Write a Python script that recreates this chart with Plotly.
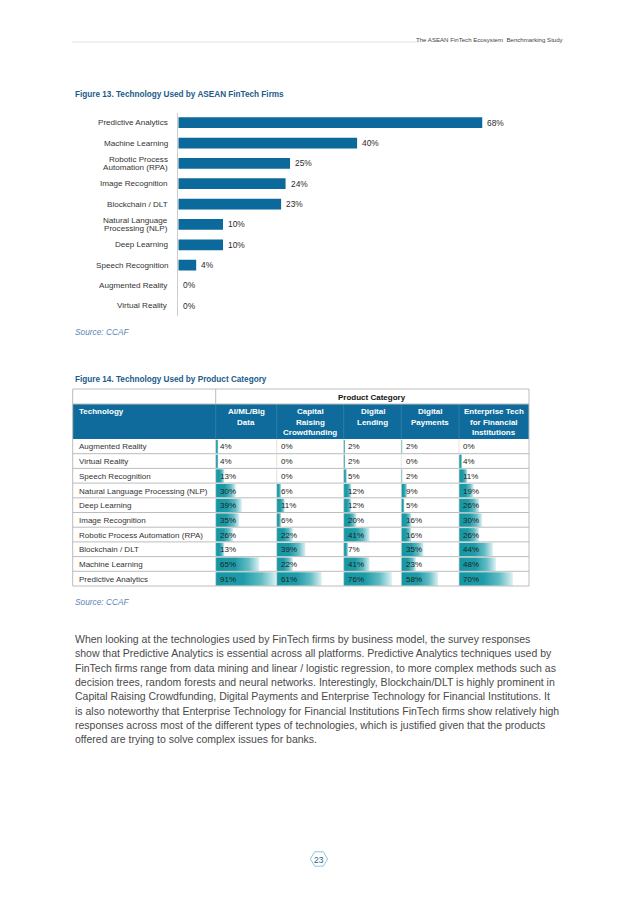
import plotly.graph_objects as go

W, H = 638, 902
FONT = "Liberation Sans, Arial, sans-serif"

# ---------------- data ----------------
header_text = "The ASEAN FinTech Ecosystem  Benchmarking Study"
fig13_title = "Figure 13. Technology Used by ASEAN FinTech Firms"
fig14_title = "Figure 14. Technology Used by Product Category"
source_text = "Source: CCAF"
page_number = "23"

fig13_categories = ["Predictive Analytics", "Machine Learning", "Robotic Process<br>Automation (RPA)",
                    "Image Recognition", "Blockchain / DLT", "Natural Language<br>Processing (NLP)",
                    "Deep Learning", "Speech Recognition", "Augmented Reality", "Virtual Reality"]
fig13_values = [68, 40, 25, 24, 23, 10, 10, 4, 0, 0]

fig14_group_header = "Product Category"
fig14_first_header = "Technology"
fig14_columns = ["AI/ML/Big<br>Data", "Capital<br>Raising<br>Crowdfunding", "Digital<br>Lending",
                 "Digital<br>Payments", "Enterprise Tech<br>for Financial<br>Institutions"]
fig14_technologies = ["Augmented Reality", "Virtual Reality", "Speech Recognition",
                      "Natural Language Processing (NLP)", "Deep Learning", "Image Recognition",
                      "Robotic Process Automation (RPA)", "Blockchain / DLT", "Machine Learning",
                      "Predictive Analytics"]
ai_ml_big_data = [4, 4, 13, 30, 39, 35, 26, 13, 65, 91]
capital_raising = [0, 0, 0, 6, 11, 6, 22, 39, 22, 61]
digital_lending = [2, 2, 5, 12, 12, 20, 41, 7, 41, 76]
digital_payments = [2, 0, 2, 9, 5, 16, 16, 35, 23, 58]
enterprise_tech = [0, 4, 11, 19, 26, 30, 26, 44, 48, 70]

paragraph_lines = [
    "When looking at the technologies used by FinTech firms by business model, the survey responses",
    "show that Predictive Analytics is essential across all platforms. Predictive Analytics techniques used by",
    "FinTech firms range from data mining and linear / logistic regression, to more complex methods such as",
    "decision trees, random forests and neural networks. Interestingly, Blockchain/DLT is highly prominent in",
    "Capital Raising Crowdfunding, Digital Payments and Enterprise Technology for Financial Institutions. It",
    "is also noteworthy that Enterprise Technology for Financial Institutions FinTech firms show relatively high",
    "responses across most of the different types of technologies, which is justified given that the products",
    "offered are trying to solve complex issues for banks.",
]

# ---------------- styles / layout constants ----------------
BAR_BLUE = "#0b6a9b"
TITLE_BLUE = "#1b5b8b"
SOURCE_BLUE = "#5a86b6"
TEXT_DARK = "#2b2b2b"
GRID = "#bcbcbc"

fig = go.Figure()

# ---------------- Figure 13: horizontal bar chart ----------------
fig.add_trace(go.Bar(
    x=fig13_values, y=fig13_categories, orientation="h",
    marker=dict(color=BAR_BLUE, line=dict(width=0)),
    xaxis="x", yaxis="y", hoverinfo="skip", showlegend=False,
))

annotations = []
for cat, v in zip(fig13_categories, fig13_values):
    annotations.append(dict(x=v, y=cat, xref="x", yref="y", text=f"{v}%", showarrow=False,
                            xanchor="left", xshift=3, font=dict(family=FONT, size=8.4, color=TEXT_DARK)))
    lines = cat.split("<br>")
    n = len(lines)
    for i, ln in enumerate(lines):
        annotations.append(dict(x=0, y=cat, xref="x", yref="y", text=ln, showarrow=False,
                                xanchor="right", xshift=-8, yshift=((n - 1) / 2 - i) * 8.7,
                                font=dict(family=FONT, size=8.1, color="#333333")))

# ---------------- Figure 14: table with data bars (pixel axes x2/y2) ----------------
col_edges = [72.7, 215.7, 276.7, 343.7, 401.3, 459.0, 529.0]
group_top, head_top, body_top, row_h = 389.0, 404.0, 439.0, 14.7
nrows = len(fig14_technologies)
body_bot = body_top + nrows * row_h
series = [ai_ml_big_data, capital_raising, digital_lending, digital_payments, enterprise_tech]
vmax = max(max(s) for s in series)

shapes = []
# header fill
shapes.append(dict(type="rect", xref="x2", yref="y2", x0=col_edges[0], x1=col_edges[-1],
                   y0=head_top, y1=body_top, fillcolor="#0f6b9b", line=dict(width=0), layer="below"))
# header separators
for xe in col_edges[1:-1]:
    shapes.append(dict(type="line", xref="x2", yref="y2", x0=xe, x1=xe, y0=head_top, y1=body_top,
                       line=dict(color="#3b87b0", width=0.7)))

# data bars with gradient
for ci, s in enumerate(series):
    cx0, cx1 = col_edges[ci + 1], col_edges[ci + 2]
    cw = cx1 - cx0
    for ri, v in enumerate(s):
        if v <= 0:
            continue
        y0 = body_top + ri * row_h + 0.9
        y1 = body_top + (ri + 1) * row_h - 0.3
        x1 = cx0 + v / vmax * cw
        fig.add_trace(go.Scatter(
            x=[cx0, x1, x1, cx0, cx0], y=[y0, y0, y1, y1, y0], xaxis="x2", yaxis="y2",
            mode="lines", line=dict(width=0), fill="toself",
            fillgradient=dict(type="horizontal",
                              colorscale=[[0, "#1497a3"], [0.45, "#1d9ca8"], [0.75, "#62bcc4"],
                                          [1, "#dcf1f3"]]),
            hoverinfo="skip", showlegend=False,
        ))

# grid lines
for ri in range(1, nrows):
    yy = body_top + ri * row_h
    shapes.append(dict(type="line", xref="x2", yref="y2", x0=col_edges[0], x1=col_edges[-1],
                       y0=yy, y1=yy, line=dict(color=GRID, width=1)))
for xe in col_edges[1:-1]:
    shapes.append(dict(type="line", xref="x2", yref="y2", x0=xe, x1=xe, y0=body_top, y1=body_bot,
                       line=dict(color="#d6d6d6", width=0.7)))
# outer borders
shapes.append(dict(type="rect", xref="x2", yref="y2", x0=col_edges[0], x1=col_edges[-1],
                   y0=group_top, y1=body_bot, line=dict(color=GRID, width=1)))
shapes.append(dict(type="line", xref="x2", yref="y2", x0=col_edges[0], x1=col_edges[-1],
                   y0=head_top, y1=head_top, line=dict(color=GRID, width=1)))
shapes.append(dict(type="line", xref="x2", yref="y2", x0=col_edges[1], x1=col_edges[1],
                   y0=group_top, y1=head_top, line=dict(color=GRID, width=1)))

# header texts
annotations.append(dict(x=(col_edges[1] + col_edges[-1]) / 2, y=(group_top + head_top) / 2 + 0.5,
                        xref="x2", yref="y2", text=f"<b>{fig14_group_header}</b>", showarrow=False,
                        font=dict(family=FONT, size=8, color="#111111")))
annotations.append(dict(x=col_edges[0] + 4.6, y=head_top + 7.7, xref="x2", yref="y2",
                        text=f"<b>{fig14_first_header}</b>", showarrow=False, xanchor="left",
                        font=dict(family=FONT, size=8, color="white")))
for ci, label in enumerate(fig14_columns):
    cx = (col_edges[ci + 1] + col_edges[ci + 2]) / 2
    for li, ln in enumerate(label.split("<br>")):
        annotations.append(dict(x=cx, y=head_top + 7.7 + li * 10.3, xref="x2", yref="y2",
                                text=f"<b>{ln}</b>", showarrow=False,
                                font=dict(family=FONT, size=8, color="white")))
# body texts
for ri, tech in enumerate(fig14_technologies):
    yc = body_top + (ri + 0.5) * row_h + 0.6
    annotations.append(dict(x=col_edges[0] + 4.6, y=yc, xref="x2", yref="y2", text=tech,
                            showarrow=False, xanchor="left",
                            font=dict(family=FONT, size=8, color="#333333")))
    for ci, s in enumerate(series):
        annotations.append(dict(x=col_edges[ci + 1] + 2.4, y=yc, xref="x2", yref="y2",
                                text=f"{s[ri]}%", showarrow=False, xanchor="left",
                                font=dict(family=FONT, size=8, color="#222222")))

# ---------------- page texts ----------------
annotations.append(dict(x=566, y=39, xref="x2", yref="y2", text=header_text, showarrow=False,
                        xanchor="right", font=dict(family=FONT, size=6.1, color="#444444")))
shapes.append(dict(type="line", xref="x2", yref="y2", x0=72, x1=419, y0=42, y1=42,
                   line=dict(color="#dcdcdc", width=0.8)))
annotations.append(dict(x=72.7, y=94.7, xref="x2", yref="y2", text=f"<b>{fig13_title}</b>",
                        showarrow=False, xanchor="left",
                        font=dict(family=FONT, size=8.2, color=TITLE_BLUE)))
annotations.append(dict(x=72.7, y=379, xref="x2", yref="y2", text=f"<b>{fig14_title}</b>",
                        showarrow=False, xanchor="left",
                        font=dict(family=FONT, size=8.2, color=TITLE_BLUE)))
for yy in (332.3, 601.7):
    annotations.append(dict(x=72.7, y=yy, xref="x2", yref="y2", text=f"<i>{source_text}</i>",
                            showarrow=False, xanchor="left",
                            font=dict(family=FONT, size=8.3, color=SOURCE_BLUE)))
for i, ln in enumerate(paragraph_lines):
    annotations.append(dict(x=72.7, y=639 + i * 14.3, xref="x2", yref="y2", text=ln,
                            showarrow=False, xanchor="left",
                            font=dict(family=FONT, size=10.5, color="#4a4a4a")))

# page number hexagon
hx, hy, hw, hh = 319, 859, 8.6, 7.2
path = (f"M {hx - hw} {hy} L {hx - hw / 2} {hy - hh} L {hx + hw / 2} {hy - hh} "
        f"L {hx + hw} {hy} L {hx + hw / 2} {hy + hh} L {hx - hw / 2} {hy + hh} Z")
shapes.append(dict(type="path", xref="x2", yref="y2", path=path,
                   line=dict(color="#8ec4e2", width=1)))
annotations.append(dict(x=hx, y=hy + 0.5, xref="x2", yref="y2", text=page_number, showarrow=False,
                        font=dict(family=FONT, size=8.5, color="#2f5d7c")))

# ---------------- layout ----------------
PX_PER_PCT = 4.47
bar_x0 = 178.3
fig.update_layout(
    width=W, height=H, margin=dict(l=0, r=0, t=0, b=0),
    paper_bgcolor="white", plot_bgcolor="rgba(0,0,0,0)",
    bargap=0.47, showlegend=False,
    xaxis=dict(domain=[bar_x0 / W, (bar_x0 + 80 * PX_PER_PCT) / W], range=[0, 80], visible=False,
               fixedrange=True, anchor="y"),
    yaxis=dict(domain=[1 - 316 / H, 1 - 112.5 / H], categoryorder="array",
               categoryarray=fig13_categories, autorange="reversed", showline=True,
               linecolor="#cccccc", linewidth=1, showticklabels=False, showgrid=False,
               zeroline=False, ticks="", anchor="x", fixedrange=True),
    xaxis2=dict(domain=[0, 1], range=[0, W], visible=False, anchor="y2", fixedrange=True),
    yaxis2=dict(domain=[0, 1], range=[H, 0], visible=False, anchor="x2", fixedrange=True),
    shapes=shapes, annotations=annotations,
)

fig.write_html("out.html", config={"displayModeBar": False},
               post_script="document.body.style.margin='0';document.body.style.padding='0';")
